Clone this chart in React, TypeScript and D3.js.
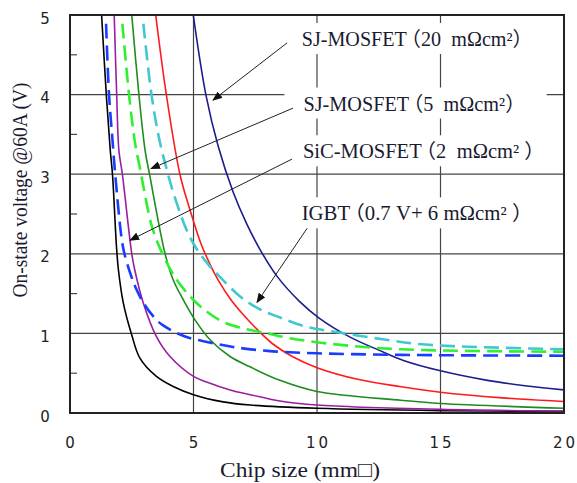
import * as d3 from 'd3';
import React from 'react';

// chip size (mm) vs on-state voltage (V)
const xTicks = [0, 5, 10, 15, 20];
const yTicks = [0, 1, 2, 3, 4, 5];
const yMinorTicks = [0.5, 1.5, 2.5, 3.5, 4.5];

const blackLine = [[1.28, 5], [1.47, 4], [1.63, 3.3], [1.72, 3], [1.88, 2.1], [1.96, 1.8], [2.16, 1.38], [2.5, 0.98], [2.83, 0.69], [3.5, 0.46], [4.2, 0.33], [5, 0.23], [6.2, 0.14], [7.3, 0.1], [10, 0.06], [15, 0.03], [20, 0.02]];
const purpleLine = [[1.79, 5], [1.89, 4], [1.98, 3.3], [2.12, 3], [2.5, 2], [2.62, 1.8], [2.97, 1.38], [3.5, 0.96], [4.05, 0.71], [5, 0.46], [5.53, 0.39], [6.48, 0.29], [7.3, 0.23], [8.5, 0.15], [10, 0.1], [15, 0.045], [20, 0.025]];
const greenLine = [[2.5, 5], [2.79, 4], [3.04, 3.3], [3.22, 3], [3.85, 2], [4.18, 1.67], [4.59, 1.42], [5.06, 1.17], [5.67, 0.92], [6.48, 0.71], [7.29, 0.58], [8.5, 0.41], [10, 0.27], [13.4, 0.16], [15, 0.12], [20, 0.06]];
const redLine = [[3.47, 5], [3.9, 4], [4.45, 3], [4.86, 2.55], [5.3, 2.13], [5.65, 1.88], [6.0, 1.67], [6.5, 1.43], [7.0, 1.24], [7.45, 1.09], [8.2, 0.87], [9.0, 0.71], [10, 0.57], [11.7, 0.42], [13.4, 0.33], [15, 0.26], [17.5, 0.19], [20, 0.145]];
const navyLine = [[4.99, 5], [5.5, 4.0], [6.0, 3.35], [6.6, 2.78], [7.15, 2.38], [7.7, 2.05], [8.4, 1.71], [9.3, 1.4], [10.1, 1.19], [11.3, 0.96], [12.5, 0.79], [13.5, 0.66], [15, 0.53], [16.9, 0.41], [18.5, 0.34], [20, 0.29]];
const blueDash = [[1.46, 4.89], [1.58, 4], [1.72, 3.43], [1.83, 3], [2.1, 2.17], [2.22, 1.98], [2.5, 1.7], [2.65, 1.58], [3.0, 1.37], [3.44, 1.19], [3.77, 1.1], [4.66, 0.96], [5.6, 0.89], [6.6, 0.83], [8, 0.78], [10, 0.75], [13.4, 0.73], [20, 0.72]];
const greenDash = [[2.12, 4.89], [2.39, 4], [2.63, 3.4], [2.83, 3.08], [2.95, 2.88], [3.3, 2.36], [3.6, 2.1], [4.0, 1.84], [4.4, 1.64], [5.0, 1.42], [5.6, 1.26], [6.3, 1.13], [7.2, 1.05], [8, 1.0], [8.9, 0.94], [10.5, 0.87], [13.4, 0.8], [20, 0.77]];
const cyanDash = [[2.97, 4.89], [3.3, 4], [3.64, 3.4], [3.97, 3.0], [4.2, 2.75], [4.72, 2.3], [5.13, 2.06], [5.67, 1.84], [6.1, 1.7], [6.9, 1.46], [7.7, 1.3], [8.5, 1.2], [9.5, 1.09], [10.5, 1.03], [11.5, 0.98], [12.8, 0.92], [14, 0.87], [15.5, 0.84], [17.5, 0.82], [20, 0.8]];

// annotation labels: name, value part, anchor (chip size, voltage), arrow from -> to
const labelNames = ['SJ-MOSFET', 'SJ-MOSFET', 'SiC-MOSFET', 'IGBT'];
const labelValues = ['（20\u00a0 mΩcm²）', '（5\u00a0 mΩcm²）', '（2\u00a0 mΩcm²\u00a0）', '（0.7 V+ 6 mΩcm²\u00a0）'];
const labelAnchors = [[9.38, 4.61], [9.45, 3.8], [9.43, 3.2], [9.38, 2.42]];
const labelWidths = [231, 222, 242, 231];
const arrowFrom = [[8.79, 4.65], [9.03, 3.83], [8.99, 3.19], [9.6, 2.32]];
const arrowTo = [[5.79, 3.93], [3.28, 3.07], [2.43, 2.17], [7.57, 1.39]];

const width = 577;
const height = 483;
const marginTop = 15;
const marginRight = 13;
const marginBottom = 70;
const marginLeft = 70;

const App = () => {
  const x = d3.scaleLinear().domain([0, 20]).range([marginLeft, width - marginRight]);
  const y = d3.scaleLinear().domain([0, 5]).range([height - marginBottom, marginTop]);

  const line = d3
    .line()
    .x((d) => x(d[0]))
    .y((d) => y(d[1]))
    .curve(d3.curveCatmullRom.alpha(0.5));

  const curves = [
    { pts: blackLine, color: '#000000', w: 1.6, dash: null },
    { pts: purpleLine, color: '#9a1fa0', w: 1.6, dash: null },
    { pts: greenLine, color: '#1e8c1e', w: 1.6, dash: null },
    { pts: redLine, color: '#ff1a1a', w: 1.6, dash: null },
    { pts: navyLine, color: '#1c1c8c', w: 1.6, dash: null },
    { pts: blueDash, color: '#1a3cff', w: 2.6, dash: '15 7' },
    { pts: greenDash, color: '#2ef02e', w: 2.6, dash: '15 7' },
    { pts: cyanDash, color: '#40c8d0', w: 2.6, dash: '15 7' },
  ];

  const x0 = x(0), x1 = x(20), y0 = y(0), y1 = y(5);

  return (
    <svg width={width} height={height} style={{ position: 'absolute', left: 0, top: 0, background: '#fff' }}>
      <defs>
        <clipPath id="plot">
          <rect x={x0} y={y1} width={x1 - x0} height={y0 - y1} />
        </clipPath>
        <marker id="arrow" markerUnits="userSpaceOnUse" markerWidth="10" markerHeight="8" refX="9" refY="4" orient="auto">
          <path d="M0,0 L10,4 L0,8 z" fill="#111" />
        </marker>
      </defs>

      {/* grid */}
      <g stroke="#444" strokeWidth="1.2">
        {xTicks.slice(1, -1).map((t) => (
          <line key={'gx' + t} x1={x(t)} x2={x(t)} y1={y1} y2={y0} />
        ))}
        {yTicks.slice(1, -1).map((t) => (
          <line key={'gy' + t} x1={x0} x2={x1} y1={y(t)} y2={y(t)} />
        ))}
        {yMinorTicks.map((t) => (
          <line key={'my' + t} x1={x0} x2={x0 + 7} y1={y(t)} y2={y(t)} />
        ))}
      </g>

      {/* curves */}
      <g clipPath="url(#plot)" fill="none">
        {curves.map((c, i) => (
          <path key={i} d={line(c.pts)} stroke={c.color} strokeWidth={c.w} strokeDasharray={c.dash || undefined} />
        ))}
      </g>

      {/* frame */}
      <rect x={x0} y={y1} width={x1 - x0} height={y0 - y1} fill="none" stroke="#222" strokeWidth="2" />

      {/* annotations */}
      {labelNames.map((t, i) => {
        const lx = x(labelAnchors[i][0]);
        const ly = y(labelAnchors[i][1]);
        return (
          <g key={'lab' + i}>
            <rect x={lx - 19} y={ly - 23} width={x(19.3) - lx + 19} height={31} fill="#fff" />
            <text
              x={lx}
              y={ly}
              fontFamily="'Liberation Serif', 'Noto Sans CJK JP', serif"
              fontSize="20"
              fill="#1a1a30"
              textLength={labelWidths[i]}
              lengthAdjust="spacingAndGlyphs"
            >
              {t}
              <tspan dx="-6">{labelValues[i]}</tspan>
            </text>
            <line
              x1={x(arrowFrom[i][0])}
              y1={y(arrowFrom[i][1])}
              x2={x(arrowTo[i][0])}
              y2={y(arrowTo[i][1])}
              stroke="#222"
              strokeWidth="1"
              markerEnd="url(#arrow)"
            />
          </g>
        );
      })}

      {/* tick labels */}
      <g fontFamily="'DejaVu Sans', sans-serif" fontSize="15" fill="#222" textAnchor="middle">
        {yTicks.map((t) => (
          <text key={'ty' + t} x={45} y={y(t) + 8.5}>
            {t}
          </text>
        ))}
        {xTicks.map((t) => (
          <text key={'tx' + t} x={x(t) + 1.5} y={448} letterSpacing="3">
            {t}
          </text>
        ))}
      </g>

      {/* axis titles */}
      <text
        x={300}
        y={477}
        textAnchor="middle"
        fontFamily="'Liberation Serif', 'Noto Sans CJK JP', serif"
        fontSize="22"
        fill="#1a1a30"
        textLength="160"
        lengthAdjust="spacingAndGlyphs"
      >
        Chip size (mm□)
      </text>
      <text
        transform="translate(27,190) rotate(-90)"
        textAnchor="middle"
        fontFamily="'Liberation Serif', serif"
        fontSize="20"
        fill="#1a1a30"
        textLength="215"
        lengthAdjust="spacingAndGlyphs"
      >
        On-state voltage @60A (V)
      </text>
    </svg>
  );
};

export default App;
